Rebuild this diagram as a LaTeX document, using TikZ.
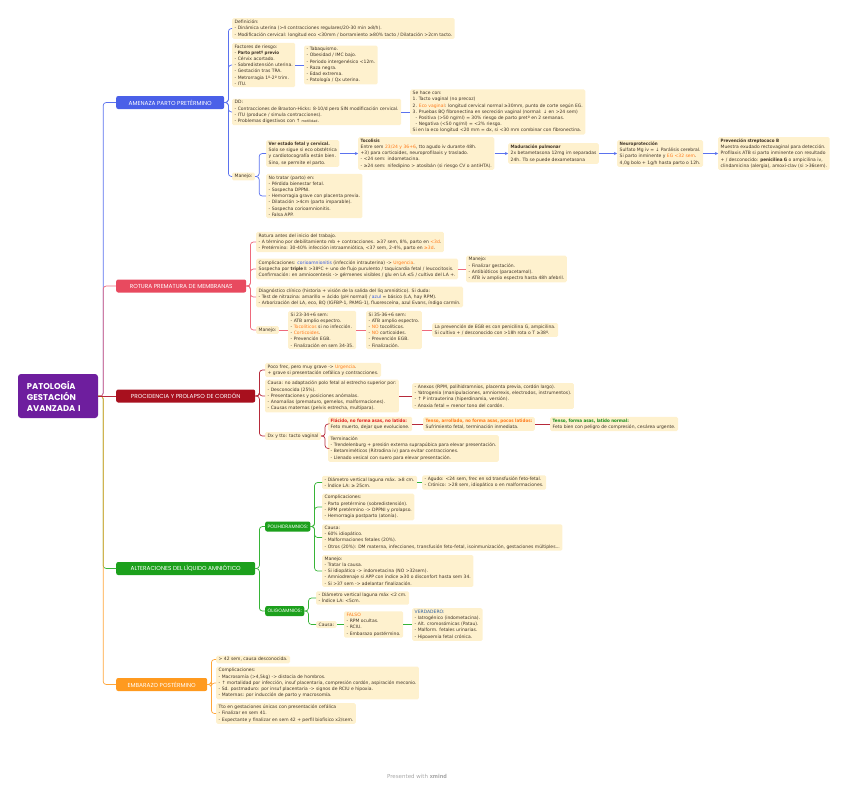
\documentclass[tikz,border=0pt]{standalone}
\usepackage{fontspec}
\setmainfont{DejaVu Sans}[BoldFont={DejaVu Sans Condensed Bold}]
\newfontfamily\hf{Poppins}
\usetikzlibrary{arrows.meta}
\definecolor{boxf}{HTML}{FEF1CE}
\definecolor{txt}{HTML}{3F3326}
\definecolor{orng}{HTML}{FF7A1A}
\definecolor{bluet}{HTML}{3355DD}
\definecolor{redt}{HTML}{E02020}
\definecolor{grnt}{HTML}{1C8C1C}
\definecolor{verd}{HTML}{2F5FA0}
\definecolor{cPur}{HTML}{6E1E9E}
\definecolor{cBlue}{HTML}{4A60E8}
\definecolor{cRed}{HTML}{E84A5F}
\definecolor{cDred}{HTML}{A8101E}
\definecolor{cGrn}{HTML}{1CA01C}
\definecolor{cOrg}{HTML}{FF9A1F}
\definecolor{lBlue}{HTML}{5B72EE}
\definecolor{lRed}{HTML}{EE6A7C}
\definecolor{lDred}{HTML}{B62A3A}
\definecolor{lGrn}{HTML}{37B437}
\definecolor{lOrg}{HTML}{FFA63A}
\newcommand{\fs}{\fontsize{4.5}{6.2}\selectfont}
\newcommand{\og}[1]{\textcolor{orng}{#1}}
\newcommand{\bl}[1]{\textcolor{bluet}{#1}}
\begin{document}
\begin{tikzpicture}[x=1pt,y=-1pt,
  bx/.style={fill=boxf, rounded corners=1.5pt, inner xsep=2.5pt, inner ysep=1.8pt, align=left, anchor=west, font=\fs, text=txt},
  br/.style={fill=#1, rounded corners=2pt, text=white, font=\hf\fontsize{5.8}{6}\selectfont, inner xsep=4pt, inner ysep=0pt, minimum height=13pt, anchor=west},
  sub/.style={fill=cGrn, rounded corners=2pt, text=white, font=\hf\fontsize{4.8}{5}\selectfont, inner xsep=2.5pt, inner ysep=0pt, minimum height=10pt, anchor=west},
  cn/.style={draw=#1, line width=0.7pt, rounded corners=3pt},
  ar/.style={draw=#1, line width=0.7pt, -{Stealth[length=3pt,width=3pt]}}]
\useasboundingbox (0,0) rectangle (848,787);
% central
\node[fill=cPur, rounded corners=3pt, minimum width=80pt, minimum height=44pt, text width=62pt, align=left, text=white, font=\hf\bfseries\fontsize{8.4}{11}\selectfont] (c) at (58,396) {PATOLOG\'IA\\GESTACI\'ON\\AVANZADA I};
% branches
\node[br=cBlue, minimum width=108pt] (b1) at (116,102.5) {AMENAZA PARTO PRETÉRMINO};
\node[br=cRed, minimum width=130pt] (b2) at (116,286) {ROTURA PREMATURA DE MEMBRANAS};
\node[br=cDred, minimum width=139pt] (b3) at (116,396) {PROCIDENCIA Y PROLAPSO DE CORDÓN};
\node[br=cGrn, minimum width=139pt] (b4) at (116,568.5) {ALTERACIONES DEL LÍQUIDO AMNIÓTICO};
\node[br=cOrg, minimum width=91pt] (b5) at (116,684.5) {EMBARAZO POSTÉRMINO};
\draw[cn=lBlue] (c.east) -- ++(5,0) |- (b1.west);
\draw[cn=lRed] (c.east) -- ++(5,0) |- (b2.west);
\draw[cn=lGrn] (c.east) -- ++(5,0) |- (b4.west);
\draw[cn=lOrg] (c.east) -- ++(5,0) |- (b5.west);
\draw[cn=lDred] (c.east) -- (b3.west);
% ---------- AMENAZA
\node[bx] (def) at (232,28.5) {Definición:\\- Dinámica uterina (>4 contracciones regulares/20-30 min ≥8/h).\\- Modificación cervical: longitud eco <30mm / borramiento ≥80\% tacto / Dilatación >2cm tacto.};
\node[bx] (fr) at (232,65) {Factores de riesgo:\\- \textbf{Parto pretº previo}\\- Cérvix acortado.\\- Sobredistensión uterina.\\- Gestación tras TRA.\\- Metrorragia 1º-2º trim.\\- ITU.};
\node[bx] (fr2) at (304,65) {- Tabaquismo.\\- Obesidad / IMC bajo.\\- Periodo intergenésico <12m.\\- Raza negra.\\- Edad extrema.\\- Patología / Qx uterina.};
\node[bx] (dd) at (232,112) {DD:\\- Contracciones de Braxton-Hicks: 8-10/d pero SIN modificación cervical.\\- ITU (produce / simula contracciones).\\- Problemas digestivos con ↑ {\fontsize{3.4}{4}\selectfont motilidad}.};
\node[bx] (se) at (410,112) {Se hace con:\\1. Tacto vaginal (no precoz)\\2. \og{Eco vaginal}: longitud cervical normal ≥30mm, punto de corte según EG.\\3. Pruebas BQ fibronectina en secreción vaginal (normal: ↓ en >24 sem)\\\hspace*{3pt}- Positiva (>50 ng/ml) = 30\% riesgo de parto pretº en 2 semanas.\\\hspace*{3pt}- Negativa (<50 ng/ml) = <2\% riesgo.\\Si en la eco longitud <20 mm = dx, si <30 mm combinar con fibronectina.};
\node[bx] (man1) at (232,176.5) {Manejo:};
\node[bx] (ver) at (266,153.5) {\textbf{Ver estado fetal y cervical.}\\Solo se sigue si eco obstétrica\\y cardiotocografía están bien.\\Sino, se permite el parto.};
\node[bx] (notr) at (266,196) {No tratar (parto) en:\\- Pérdida bienestar fetal.\\- Sospecha DPPNI.\\- Hemorragia grave con placenta previa.\\- Dilatación >4cm (parto imparable).\\- Sospecha corioamnionitis.\\- Falsa APP.};
\node[bx] (toc) at (358,153.5) {\textbf{Tocolisis}\\Entre sem \og{23/24 y 36+6}, tto agudo iv durante 48h.\\+3) para corticoides, neuroprofilaxis y traslado.\\- <24 sem: indometacina.\\- ≥24 sem: nifedipino > atosibán (si riesgo CV o antiHTA).};
\node[bx] (mad) at (508,153.5) {\textbf{Maduración pulmonar}\\2x betametasona 12mg im separadas\\24h. Tb se puede dexametasona};
\node[bx] (neu) at (617,153.5) {\textbf{Neuroprotección}\\Sulfato Mg iv = ↓ Parálisis cerebral.\\Si parto inminente y \og{EG <32 sem}.\\4,0g bolo + 1g/h hasta parto o 12h.};
\node[bx] (pre) at (718,153.5) {\textbf{Prevención streptococo B}\\Muestra exudado rectovaginal para detección.\\Profilaxis ATB si parto inminente con resultado\\+ / desconocido: \textbf{penicilina G} o ampicilina iv,\\clindamicina (alergia), amoxi-clav (si >36sem).};
\foreach \n in {def,fr,dd,man1} \draw[cn=lBlue] (b1.east) -- ++(4,0) |- (\n.west);
\draw[cn=lBlue] (fr.east) -- (fr2.west);
\draw[cn=lBlue] (dd.east) -- (se.west);
\foreach \n in {ver,notr} \draw[cn=lBlue] (man1.east) -- ++(4,0) |- (\n.west);
\draw[ar=lBlue] (ver.east) -- (toc.west);
\draw[ar=lBlue] (toc.east) -- (mad.west);
\draw[ar=lBlue] (mad.east) -- (neu.west);
\draw[ar=lBlue] (neu.east) -- (pre.west);
% ---------- ROTURA
\node[bx] (r1) at (256,242) {Rotura antes del inicio del trabajo.\\- A término por debilitamiento mb + contracciones. ≥37 sem, 8\%, parto en \og{<3d}.\\- Pretérmino: 30-40\% infección intraamniótica, <37 sem, 2-4\%, parto en \og{≥3d}.};
\node[bx] (r2) at (256,269) {Complicaciones: \bl{corioamnionitis} (infección intrauterina) -> \og{Urgencia}.\\Sospecha por \textbf{triple I}: >38ºC + uno de flujo purulento / taquicardia fetal / leucocitosis.\\Confirmación: en amniocentesis -> gérmenes visibles / glu en LA ≤5 / cultivo del LA +.};
\node[bx] (r2m) at (466,269) {Manejo:\\- Finalizar gestación.\\- Antibióticos (paracetamol).\\- ATB iv amplio espectro hasta 48h afebril.};
\node[bx] (r3) at (256,297) {Diagnóstico clínico (historia + visión de la salida del líq amniótico). Si duda:\\- Test de nitrazina: amarillo = ácido (pH normal) / \bl{azul} = básico (LA, hay RPM).\\- Arborización del LA, eco, BQ (IGFBP-1, PAMG-1), fluoresceína, azul Evans, índigo carmín.};
\node[bx] (r4) at (256,330) {Manejo:};
\node[bx] (r4a) at (288,330) {Si 23-34+6 sem:\\- ATB amplio espectro.\\- \og{Tocolíticos} si no infección.\\- \og{Corticoides}.\\- Prevención EGB.\\- Finalización en sem 34-35.};
\node[bx] (r4b) at (366,330) {Si 35-36+6 sem:\\- ATB amplio espectro.\\- \og{NO} tocolíticos.\\- \og{NO} corticoides.\\- Prevención EGB.\\- Finalización.};
\node[bx] (r4c) at (432,330) {La prevención de EGB es con penicilina G, ampicilina.\\Si cultivo + / desconocido con >18h rota o T ≥38º.};
\foreach \n in {r1,r2,r3,r4} \draw[cn=lRed] (b2.east) -- ++(4,0) |- (\n.west);
\draw[cn=lRed] (r2.east) -- (r2m.west);
\draw[cn=lRed] (r4.east) -- (r4a.west);
\draw[cn=lRed] (r4a.east) -- (r4b.west);
\draw[cn=lRed] (r4b.east) -- (r4c.west);
% ---------- PROCIDENCIA
\node[bx] (p1) at (265,370) {Poco frec, pero muy grave -> \og{Urgencia}.\\+ grave si presentación cefálica y contracciones.};
\node[bx] (p2) at (265,396) {Causa: no adaptación polo fetal al estrecho superior por:\\- Desconocida (25\%).\\- Presentaciones y posiciones anómalas.\\- Anomalías (prematuro, gemelos, malformaciones).\\- Causas maternas (pelvis estrecha, multípara).};
\node[bx] (p2b) at (412,396) {- Anexos (RPM, polihidramnios, placenta previa, cordón largo).\\- Yatrogenia (manipulaciones, amniorrexis, electrodos, instrumentos).\\- ↑ P intrauterina (hiperdinamia, versión).\\- Anoxia fetal = menor tono del cordón.};
\node[bx] (p3) at (265,436) {Dx y tto: tacto vaginal};
\node[bx] (p3a) at (328,424) {\textcolor{redt}{\textbf{Flácido, no forma asas, no latido:}}\\Feto muerto, dejar que evolucione.};
\node[bx] (p3b) at (423,424) {\textcolor{orng}{\textbf{Tenso, arrollado, no forma asas, pocos latidos:}}\\Sufrimiento fetal, terminación inmediata.};
\node[bx] (p3c) at (550,424) {\textcolor{grnt}{\textbf{Tenso, forma asas, latido normal:}}\\Feto bien con peligro de compresión, cesárea urgente.};
\node[bx] (p3d) at (328,448.5) {Terminación\\- Trendelenburg + presión externa suprapúbica para elevar presentación.\\- Betamiméticos (Ritrodina iv) para evitar contracciones.\\- Llenado vesical con suero para elevar presentación.};
\foreach \n in {p1,p2,p3} \draw[cn=lDred] (b3.east) -- ++(4,0) |- (\n.west);
\draw[cn=lDred] (p2.east) -- (p2b.west);
\foreach \n in {p3a,p3d} \draw[cn=lDred] (p3.east) -- ++(4,0) |- (\n.west);
\draw[cn=lDred] (p3a.east) -- (p3b.west);
\draw[cn=lDred] (p3b.east) -- (p3c.west);
% ---------- ALTERACIONES
\node[sub] (poli) at (265,526.5) {POLIHIDRAMNIOS:};
\node[sub] (oligo) at (265,611) {OLIGOAMNIOS:};
\node[bx] (l1) at (322,482.5) {- Diámetro vertical laguna máx. ≥8 cm.\\- Índice LA: ≥ 25cm.};
\node[bx] (l1b) at (422,482.5) {- Agudo: <24 sem, frec en sd transfusión feto-fetal.\\- Crónico: >28 sem, idiopático o en malformaciones.};
\node[bx] (l2) at (322,507) {Complicaciones:\\- Parto pretérmino (sobredistensión).\\- RPM pretérmino -> DPPNI y prolapso.\\- Hemorragia postparto (atonía).};
\node[bx] (l3) at (322,537.5) {Causa:\\- 60\% idiopático.\\- Malformaciones fetales (20\%).\\- Otros (20\%): DM materna, infecciones, transfusión feto-fetal, isoinmunización, gestaciones múltiples...};
\node[bx] (l4) at (322,571) {Manejo:\\- Tratar la causa.\\- Si idiopático -> indometacina (NO >32sem).\\- Amniodrenaje si APP con índice ≥30 o disconfort hasta sem 34.\\- Si >37 sem -> adelantar finalización.};
\node[bx] (o1) at (316,598) {- Diámetro vertical laguna máx <2 cm.\\- Índice LA: <5cm.};
\node[bx] (o2) at (316,624.5) {Causa:};
\node[bx] (o2a) at (344,624.5) {\og{FALSO}\\- RPM ocultas.\\- RCIU.\\- Embarazo postérmino.};
\node[bx] (o2b) at (412,624.5) {\textcolor{verd}{VERDADERO:}\\- Iatrogénico (indometacina).\\- Alt. cromosómicas (Patau).\\- Malform. fetales urinarias.\\- Hipoxemia fetal crónica.};
\foreach \n in {poli,oligo} \draw[cn=lGrn] (b4.east) -- ++(4,0) |- (\n.west);
\foreach \n in {l1,l2,l3,l4} \draw[cn=lGrn] (poli.east) -- ++(4,0) |- (\n.west);
\draw[cn=lGrn] (l1.east) -- (l1b.west);
\foreach \n in {o1,o2} \draw[cn=lGrn] (oligo.east) -- ++(4,0) |- (\n.west);
\draw[cn=lGrn] (o2.east) -- (o2a.west);
\draw[cn=lGrn] (o2a.east) -- (o2b.west);
% ---------- EMBARAZO
\node[bx] (e1) at (216,659.5) {> 42 sem, causa desconocida.};
\node[bx] (e2) at (216,683) {Complicaciones:\\- Macrosomía (>4,5kg) -> distocia de hombros.\\- ↑ mortalidad por infección, insuf placentaria, compresión cordón, aspiración meconio.\\- Sd. postmaduro: por insuf placentaria -> signos de RCIU e hipoxia.\\- Maternas: por inducción de parto y macrosomía.};
\node[bx] (e3) at (216,713.5) {Tto en gestaciones únicas con presentación cefálica\\- Finalizar en sem 41.\\- Expectante y finalizar en sem 42 + perfil biofísico x2/sem.};
\foreach \n in {e1,e2,e3} \draw[cn=lOrg] (b5.east) -- ++(4,0) |- (\n.west);
% footer
\node[font=\fontsize{5.5}{6}\selectfont, text=black!35] (ft) at (417,776) {Presented with \textbf{xmind}};
\end{tikzpicture}
\end{document}
